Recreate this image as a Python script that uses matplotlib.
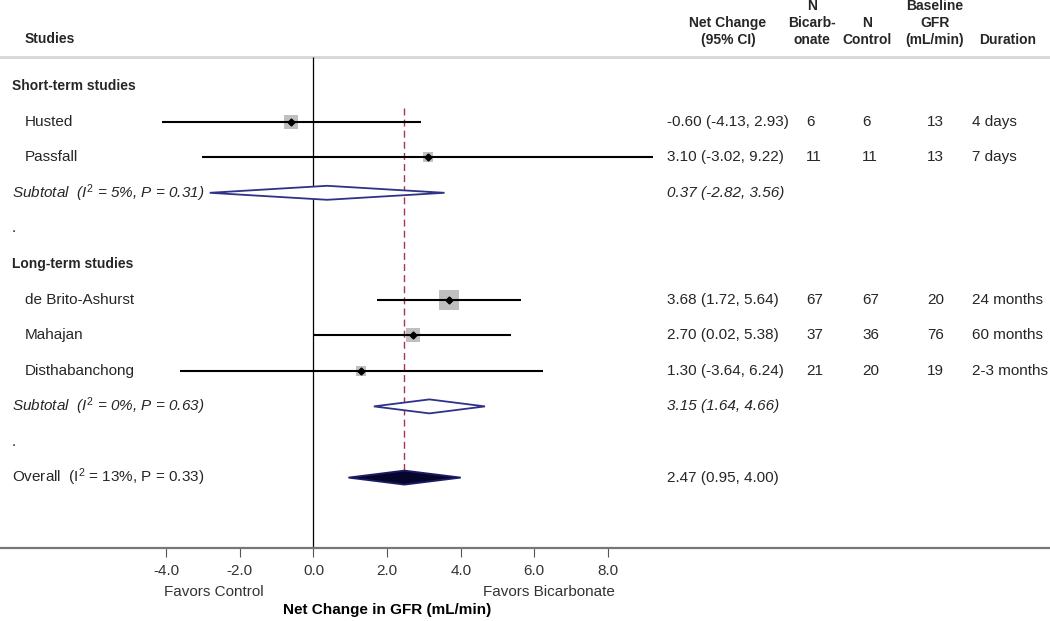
import matplotlib
matplotlib.use("Agg")
import matplotlib.pyplot as plt
from matplotlib.patches import Polygon
from matplotlib.transforms import blended_transform_factory

plt.rcParams['font.family'] = ['Liberation Sans', 'DejaVu Sans']
plt.rcParams['mathtext.fontset'] = 'custom'
plt.rcParams['mathtext.rm'] = 'Liberation Sans'
plt.rcParams['mathtext.it'] = 'Liberation Sans:italic'
plt.rcParams['mathtext.bf'] = 'Liberation Sans:bold'

# --- data ---
groups = ["Short-term studies", "Long-term studies"]
studies = ["Husted", "Passfall", "de Brito-Ashurst", "Mahajan", "Disthabanchong"]
study_group = [0, 0, 1, 1, 1]
est = [-0.60, 3.10, 3.68, 2.70, 1.30]
ci_lo = [-4.13, -3.02, 1.72, 0.02, -3.64]
ci_hi = [2.93, 9.22, 5.64, 5.38, 6.24]
weights = [19, 10, 39, 22, 10]          # approx. % weight (box area)
n_bicarb = [6, 11, 67, 37, 21]
n_control = [6, 11, 67, 36, 20]
baseline_gfr = [13, 13, 20, 76, 19]
duration = ["4 days", "7 days", "24 months", "60 months", "2-3 months"]

sub_est = [0.37, 3.15]
sub_lo = [-2.82, 1.64]
sub_hi = [3.56, 4.66]
sub_i2 = [5, 0]
sub_p = [0.31, 0.63]

overall_est, overall_lo, overall_hi = 2.47, 0.95, 4.00
overall_i2, overall_p = 13, 0.33

xticks = [-4, -2, 0, 2, 4, 6, 8]

# --- layout (pixels) ---
W, H = 1050, 621
axis_px = 548
header_px = 57
x0_px, px_per_unit = 313.5, 36.8
row0, row_step = 86, 35.6
half_h = 7
txt = '#262626'
navy = '#2e3388'


def row_y(i):
    return row0 + row_step * i


fig = plt.figure(figsize=(W / 100, H / 100), dpi=100)
ax = fig.add_axes([0, 1 - axis_px / H, 1, axis_px / H])
ax.set_xlim(-x0_px / px_per_unit, (W - x0_px) / px_per_unit)
ax.set_ylim(axis_px, 0)
tr = blended_transform_factory(ax.transAxes, ax.transData)


def label(xpx, y, s, **kw):
    kw.setdefault('fontsize', 11)
    kw.setdefault('color', txt)
    kw.setdefault('va', 'center')
    ax.text(xpx / W, y, s, transform=tr, **kw)


def diamond(e, lo, hi, y, fc, ec):
    ax.add_patch(Polygon([(lo, y), (e, y - half_h), (hi, y), (e, y + half_h)],
                         closed=True, facecolor=fc, edgecolor=ec, lw=1.3, zorder=4))


# column headers
hdr = dict(fontsize=10, fontweight='bold', color=txt, ha='center', va='bottom',
           linespacing=1.25)
label(25, 39, "Studies", fontsize=10, fontweight='bold')
label(728, 47, "Net Change\n(95% CI)", **hdr)
label(812, 47, "N\nBicarb-\nonate", **hdr)
label(867, 47, "N\nControl", **hdr)
label(935, 47, "Baseline\nGFR\n(mL/min)", **hdr)
label(1008, 47, "Duration", **hdr)

ax.axhline(header_px, color='#d6d6d6', lw=2)
ax.vlines(0, header_px, axis_px, colors='black', lw=0.9)

row = 0
for g, gname in enumerate(groups):
    label(12, row_y(row), gname, fontsize=10, fontweight='bold')
    row += 1
    for i in range(len(studies)):
        if study_group[i] != g:
            continue
        y = row_y(row)
        ax.hlines(y, ci_lo[i], ci_hi[i], colors='black', lw=1.5, zorder=3)
        ax.scatter([est[i]], [y], s=5.3 * weights[i], marker='s',
                   color='#bfbfbf', zorder=2, linewidths=0)
        ax.plot([est[i]], [y], marker='D', ms=3.5, color='black', zorder=5)
        label(25, y, studies[i])
        label(667, y, f"{est[i]:.2f} ({ci_lo[i]:.2f}, {ci_hi[i]:.2f})")
        label(806, y, str(n_bicarb[i]))
        label(862, y, str(n_control[i]))
        label(927, y, str(baseline_gfr[i]))
        label(972, y, duration[i])
        row += 1
    y = row_y(row)
    diamond(sub_est[g], sub_lo[g], sub_hi[g], y, 'white', navy)
    label(12, y, f"Subtotal  ($I^{{2}}$ = {sub_i2[g]}%, P = {sub_p[g]:.2f})",
          style='italic')
    label(667, y, f"{sub_est[g]:.2f} ({sub_lo[g]:.2f}, {sub_hi[g]:.2f})",
          style='italic')
    row += 1
    label(12, row_y(row), ".")
    row += 1

y = row_y(row)
diamond(overall_est, overall_lo, overall_hi, y, '#06062c', '#1c1c66')
label(12, y, f"Overall  ($\\mathrm{{I}}^{{2}}$ = {overall_i2}%, P = {overall_p:.2f})")
label(667, y, f"{overall_est:.2f} ({overall_lo:.2f}, {overall_hi:.2f})")

ax.vlines(overall_est, row_y(1) - 14, y - half_h, colors='#a8354f',
          linestyles=(0, (5, 3)), lw=1, zorder=1)

# x axis
for s in ['left', 'right', 'top']:
    ax.spines[s].set_visible(False)
ax.spines['bottom'].set_color('#777777')
ax.spines['bottom'].set_linewidth(1.6)
ax.set_yticks([])
ax.set_xticks(xticks)
ax.set_xticklabels([f"{t:.1f}" for t in xticks])
ax.tick_params(axis='x', length=6.5, width=0.8, color='#555555', pad=5,
               labelsize=11, labelcolor='#333333')

trx = blended_transform_factory(ax.transData, fig.transFigure)
ax.text(-4.05, 1 - 592 / H, "Favors Control", transform=trx, ha='left',
        va='center', fontsize=11, color='#333333')
ax.text(8.2, 1 - 592 / H, "Favors Bicarbonate", transform=trx, ha='right',
        va='center', fontsize=11, color='#333333')
ax.text(2.0, 1 - 610 / H, "Net Change in GFR (mL/min)", transform=trx,
        ha='center', va='center', fontsize=11, fontweight='bold', color='black')

fig.savefig("out.png", dpi=100)
